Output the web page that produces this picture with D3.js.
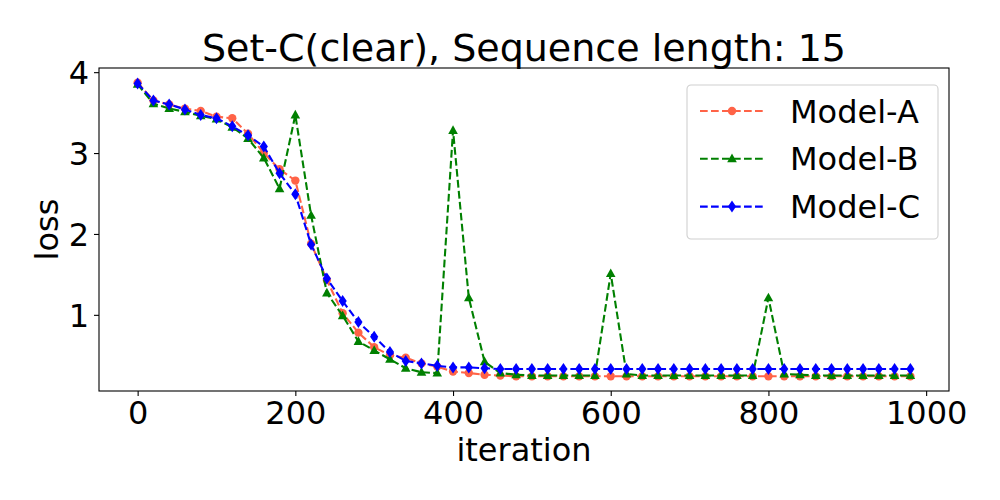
<!DOCTYPE html>
<html>
<head>
<meta charset="utf-8">
<script src="https://cdn.jsdelivr.net/npm/d3@7"></script>
<style>
  body { margin: 0; background: #fff; }
  text { font-family: "DejaVu Sans", sans-serif; fill: #000; }
</style>
</head>
<body>
<div id="chart"></div>
<script>
// iterations (x values)
let iterations = d3.range(0, 1000, 20);

// loss values
let modelA = [3.87, 3.65, 3.60, 3.55, 3.52, 3.45, 3.43, 3.24, 3.00, 2.80,
              2.66, 1.88, 1.43, 1.02, 0.78, 0.60, 0.50, 0.47, 0.40, 0.36,
              0.30, 0.28, 0.26, 0.25, 0.24, 0.24, 0.24, 0.24, 0.24, 0.24,
              0.24, 0.24, 0.24, 0.24, 0.24, 0.24, 0.24, 0.24, 0.24, 0.24,
              0.24, 0.24, 0.24, 0.24, 0.24, 0.24, 0.24, 0.24, 0.24, 0.24];
let modelB = [3.85, 3.61, 3.55, 3.51, 3.46, 3.42, 3.32, 3.18, 2.94, 2.56,
              3.47, 2.23, 1.27, 0.99, 0.67, 0.56, 0.45, 0.34, 0.29, 0.28,
              3.28, 1.21, 0.42, 0.28, 0.26, 0.25, 0.25, 0.25, 0.25, 0.25,
              1.51, 0.27, 0.25, 0.25, 0.25, 0.25, 0.25, 0.25, 0.25, 0.25,
              1.21, 0.27, 0.26, 0.25, 0.25, 0.25, 0.25, 0.25, 0.25, 0.25];
let modelC = [3.86, 3.65, 3.60, 3.54, 3.47, 3.43, 3.33, 3.22, 3.08, 2.75,
              2.49, 1.87, 1.45, 1.17, 0.91, 0.73, 0.54, 0.43, 0.40, 0.37,
              0.35, 0.35, 0.34, 0.33, 0.33, 0.33, 0.33, 0.33, 0.33, 0.33,
              0.33, 0.33, 0.33, 0.33, 0.33, 0.33, 0.33, 0.33, 0.33, 0.33,
              0.33, 0.33, 0.33, 0.33, 0.33, 0.33, 0.33, 0.33, 0.33, 0.33];

let seriesNames = ["Model-A", "Model-B", "Model-C"];
let xTicks = [0, 200, 400, 600, 800, 1000];
let yTicks = [1, 2, 3, 4];

let series = [
    { name: seriesNames[0], values: modelA, color: "#ff6347", marker: "circle" },
    { name: seriesNames[1], values: modelB, color: "#008000", marker: "triangle" },
    { name: seriesNames[2], values: modelC, color: "#0000ff", marker: "diamond" }
];

let svgWidth = 1000, svgHeight = 500;
let margin = { top: 68, right: 51, bottom: 109, left: 99 };
let width = svgWidth - margin.left - margin.right;
let height = svgHeight - margin.top - margin.bottom;

let svg = d3.select("#chart").append("svg")
    .attr("width", svgWidth)
    .attr("height", svgHeight);

let chartGroup = svg.append("g")
    .attr("transform", `translate(${margin.left}, ${margin.top})`);

// matplotlib style 5% margins
let xExt = d3.extent(iterations);
let xPad = (xExt[1] - xExt[0]) * 0.05;
let xScale = d3.scaleLinear().domain([xExt[0] - xPad, xExt[1] + xPad]).range([0, width]);

let allVals = modelA.concat(modelB, modelC);
let yExt = d3.extent(allVals);
let yPad = (yExt[1] - yExt[0]) * 0.05;
let yScale = d3.scaleLinear().domain([yExt[0] - yPad, yExt[1] + yPad]).range([height, 0]);

// marker shapes
function markerPath(type) {
    if (type === "circle") return d3.symbol(d3.symbolCircle, 55)();
    if (type === "triangle") return "M0,-5.2L4.8,3.5L-4.8,3.5Z";
    return "M0,-6L4.1,0L0,6L-4.1,0Z";
}

let line = d3.line()
    .x((d, i) => xScale(iterations[i]))
    .y(d => yScale(d));

series.forEach(s => {
    let g = chartGroup.append("g");
    g.append("path")
        .datum(s.values)
        .attr("fill", "none")
        .attr("stroke", s.color)
        .attr("stroke-width", 2.1)
        .attr("stroke-dasharray", "7.7,3.3")
        .attr("d", line);
    g.selectAll(".mk")
        .data(s.values)
        .enter()
        .append("path")
        .attr("class", "mk")
        .attr("d", markerPath(s.marker))
        .attr("transform", (d, i) => `translate(${xScale(iterations[i])}, ${yScale(d)})`)
        .attr("fill", s.color);
});

// axes
let bottomAxis = d3.axisBottom(xScale).tickValues(xTicks).tickFormat(d3.format("d")).tickSize(5).tickPadding(5);
let leftAxis = d3.axisLeft(yScale).tickValues(yTicks).tickFormat(d3.format("d")).tickSize(5).tickPadding(5);

let xAxis = chartGroup.append("g")
    .attr("transform", `translate(0, ${height})`)
    .call(bottomAxis);
let yAxis = chartGroup.append("g").call(leftAxis);

[xAxis, yAxis].forEach(a => {
    a.select(".domain").remove();
    a.selectAll("line").attr("stroke", "#000").attr("stroke-width", 1.1);
    a.selectAll("text").style("font-size", "32px").attr("fill", "#000");
});
yAxis.selectAll("text").attr("dy", "0.36em");

// frame
chartGroup.append("rect")
    .attr("width", width)
    .attr("height", height)
    .attr("fill", "none")
    .attr("stroke", "#000")
    .attr("stroke-width", 1.1);

// labels
svg.append("text")
    .attr("x", margin.left + width / 2)
    .attr("y", 61)
    .attr("text-anchor", "middle")
    .style("font-size", "38px")
    .text("Set-C(clear), Sequence length: 15");

svg.append("text")
    .attr("x", margin.left + width / 2)
    .attr("y", 461)
    .attr("text-anchor", "middle")
    .style("font-size", "32px")
    .text("iteration");

svg.append("text")
    .attr("transform", `translate(58, ${margin.top + height / 2}) rotate(-90)`)
    .attr("text-anchor", "middle")
    .style("font-size", "32px")
    .text("loss");

// legend
let legend = svg.append("g").attr("transform", "translate(687, 85)");
legend.append("rect")
    .attr("width", 251)
    .attr("height", 154)
    .attr("rx", 4)
    .attr("fill", "#fff")
    .attr("fill-opacity", 0.8)
    .attr("stroke", "#d0d0d0")
    .attr("stroke-width", 1.1);

series.forEach((s, i) => {
    let row = legend.append("g").attr("transform", `translate(0, ${26 + i * 47.8})`);
    row.append("line")
        .attr("x1", 13).attr("x2", 77)
        .attr("stroke", s.color)
        .attr("stroke-width", 2.1)
        .attr("stroke-dasharray", "7.7,3.3");
    row.append("path")
        .attr("d", markerPath(s.marker))
        .attr("transform", "translate(45, 0)")
        .attr("fill", s.color);
    row.append("text")
        .attr("x", 103)
        .attr("dy", "0.36em")
        .style("font-size", "32px")
        .text(s.name);
});
</script>
</body>
</html>
